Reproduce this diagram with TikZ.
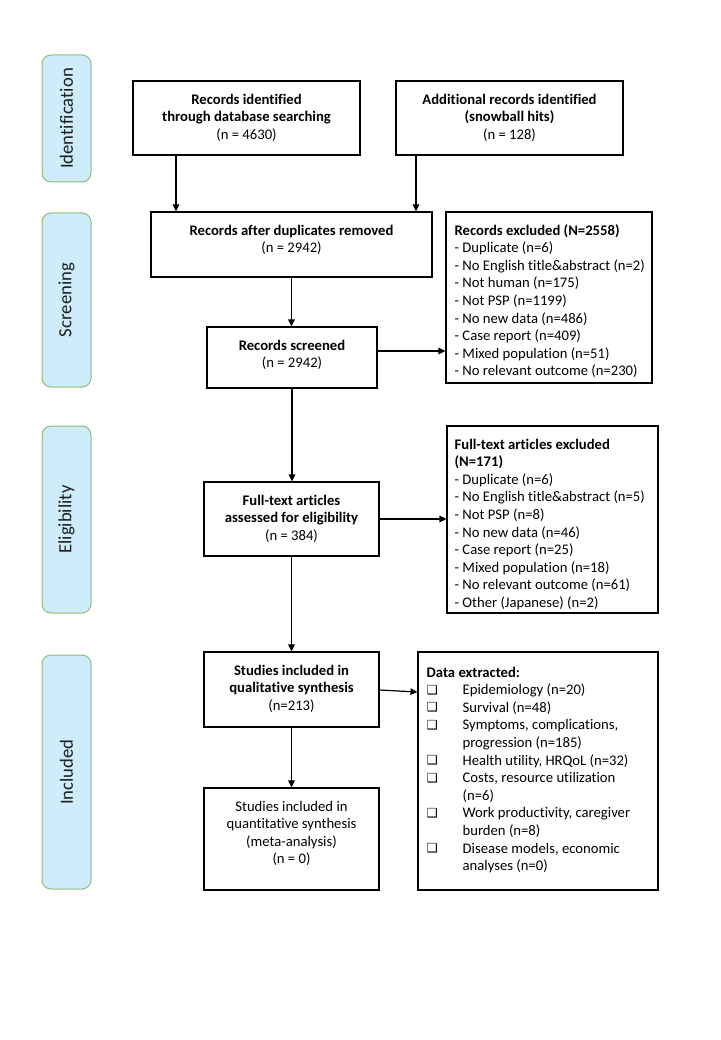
\documentclass[tikz,border=0pt]{standalone}
\usepackage{fontspec}
\setmainfont[RawFeature={-liga;-clig;-calt;-dlig}]{Carlito}
\newfontfamily\symfont{DejaVu Sans}
\usetikzlibrary{arrows.meta,calc}
\definecolor{lblfill}{RGB}{206,236,250}
\definecolor{lbldraw}{RGB}{140,190,120}
\definecolor{lbltext}{RGB}{30,30,30}
\newcommand{\fsz}{\fontsize{14.67pt}{17.6pt}\selectfont}
\newcommand{\cb}{\makebox[36pt][l]{\raisebox{0.5pt}{\fontsize{12.5pt}{12pt}\selectfont\symfont ❑}}}
\newcommand{\ind}{\hspace*{36pt}}
\tikzset{
  box/.style={draw=black, line width=1.1pt, fill=white, inner sep=0pt},
  lbl/.style={draw=lbldraw, line width=1pt, fill=lblfill, rounded corners=9pt, rotate=90,
     minimum height=49pt, text=lbltext, font=\fontsize{18.67pt}{22pt}\selectfont, inner sep=0pt},
  txt/.style={inner sep=0pt, font=\fsz, anchor=north},
  ltxt/.style={inner sep=0pt, font=\fsz, anchor=north west, align=left},
  arr/.style={-{Triangle[length=7pt,width=6.5pt]}, line width=1.2pt, draw=black}
}
\begin{document}
\begin{tikzpicture}[x=1pt,y=-1pt]
\useasboundingbox[fill=white] (0,0) rectangle (720,1040);

% phase labels
\node[lbl, minimum width=127pt] (lid) at (66.5,118.5) {Identification};
\node[lbl, minimum width=174pt] (lsc) at (66.5,300) {Screening};
\node[lbl, minimum width=187pt] (lel) at (66.5,519.5) {Eligibility};
\node[lbl, minimum width=234pt] (lin) at (66.5,772) {Included};

% boxes
\node[box, minimum width=227pt, minimum height=74pt] (b1) at (246.5,118) {};
\node[box, minimum width=227pt, minimum height=74pt] (b2) at (509.5,118) {};
\node[box, minimum width=281pt, minimum height=65pt] (dup) at (291.5,244.5) {};
\node[box, minimum width=206pt, minimum height=171pt] (ex1) at (549,297.5) {};
\node[box, minimum width=170pt, minimum height=61pt] (scr) at (292,357.5) {};
\node[box, minimum width=175pt, minimum height=74pt] (ft) at (291.5,519) {};
\node[box, minimum width=211pt, minimum height=187pt] (ex2) at (552.5,519.5) {};
\node[box, minimum width=175pt, minimum height=75pt] (qual) at (291.5,689.5) {};
\node[box, minimum width=175pt, minimum height=102pt] (quant) at (291.5,839) {};
\node[box, minimum width=240pt, minimum height=238pt] (data) at (538,771) {};

% texts
\node[txt, align=center] (t1) at ([yshift=-11.2pt]b1.north) {\strut\textbf{Records identified}\\\textbf{through database searching}\\(n = 4630)};
\node[txt, align=center] (t2) at ([yshift=-11.2pt]b2.north) {\strut\textbf{Additional records identified}\\\textbf{(snowball hits)}\\(n = 128)};
\node[txt, align=center] (t3) at ([yshift=-11.2pt]dup.north) {\strut\textbf{Records after duplicates removed}\\(n = 2942)};
\node[txt, align=center] (t4) at ([yshift=-11.2pt]scr.north) {\strut\textbf{Records screened}\\(n = 2942)};
\node[txt, align=center] (t5) at ([yshift=-11.2pt]ft.north) {\strut\textbf{Full-text articles}\\\textbf{assessed for eligibility}\\(n = 384)};
\node[txt, align=center] (t6) at ([yshift=-11.2pt]qual.north) {\strut\textbf{Studies included in}\\\textbf{qualitative synthesis}\\(n=213)};
\node[txt, align=center] (t7) at ([yshift=-11.2pt]quant.north) {\strut Studies included in\\quantitative synthesis\\(meta-analysis)\\(n = 0)};

\node[ltxt] (t8) at ([xshift=9pt,yshift=-11.2pt]ex1.north west) {\strut\textbf{Records excluded (N=2558)}\\
- Duplicate (n=6)\\
- No English title\&abstract (n=2)\\
- Not human (n=175)\\
- Not PSP (n=1199)\\
- No new data (n=486)\\
- Case report (n=409)\\
- Mixed population (n=51)\\
- No relevant outcome (n=230)};

\node[ltxt] (t9) at ([xshift=8pt,yshift=-11.2pt]ex2.north west) {\strut\textbf{Full-text articles excluded}\\
\textbf{(N=171)}\\
- Duplicate (n=6)\\
- No English title\&abstract (n=5)\\
- Not PSP (n=8)\\
- No new data (n=46)\\
- Case report (n=25)\\
- Mixed population (n=18)\\
- No relevant outcome (n=61)\\
- Other (Japanese) (n=2)};

\node[ltxt] (t10) at ([xshift=9pt,yshift=-13.2pt]data.north west) {\strut\textbf{Data extracted:}\\
\cb Epidemiology (n=20)\\
\cb Survival (n=48)\\
\cb Symptoms, complications,\\
\ind progression (n=185)\\
\cb Health utility, HRQoL (n=32)\\
\cb Costs, resource utilization\\
\ind (n=6)\\
\cb Work productivity, caregiver\\
\ind burden (n=8)\\
\cb Disease models, economic\\
\ind analyses (n=0)};

% connectors
\draw[arr] ([xshift=-70.5pt]b1.south) -- ([xshift=-70.5pt]b1.south |- dup.north);
\draw[arr] ([xshift=-93.5pt]b2.south) -- ([xshift=-93.5pt]b2.south |- dup.north);
\draw[arr] (dup.south) -- (dup.south |- scr.north);
\draw[arr] ([yshift=6.5pt]scr.east) -- ([yshift=6.5pt]scr.east -| ex1.west);
\draw[arr] (scr.south) -- (scr.south |- ft.north);
\draw[arr] (ft.east) -- (ft.east -| ex2.west);
\draw[arr] (ft.south) -- (ft.south |- qual.north);
\draw[arr] ([yshift=-0.5pt]qual.east) -- ([yshift=-2.5pt]qual.east -| data.west);
\draw[arr] (qual.south) -- (qual.south |- quant.north);
\end{tikzpicture}
\end{document}
